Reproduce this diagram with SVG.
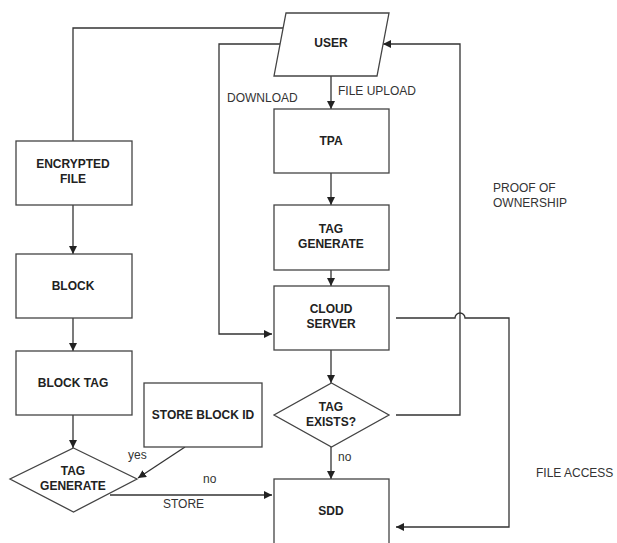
<svg xmlns="http://www.w3.org/2000/svg" width="617" height="543" viewBox="0 0 617 543">
<defs>
<marker id="ah" viewBox="0 0 10 10" refX="10" refY="5" markerWidth="8" markerHeight="8" markerUnits="userSpaceOnUse" orient="auto">
<path d="M0,0 L10,5 L0,10 z" fill="#222"/>
</marker>
<style>
.box{fill:#fff;stroke:#444;stroke-width:1.3}
.t{font-family:"Liberation Sans",Arial,sans-serif;font-size:12px;font-weight:bold;fill:#222;text-anchor:middle}
.l{font-family:"Liberation Sans",Arial,sans-serif;font-size:12px;fill:#333}
.c{fill:none;stroke:#333;stroke-width:1.3}
</style>
</defs>
<rect width="617" height="543" fill="#fff"/>
<g id="connectors">
<path class="c" d="M73,141 V28 H283"/>
<path class="c" d="M280,44 H219 V334 H272" marker-end="url(#ah)"/>
<path class="c" d="M331,76 V109" marker-end="url(#ah)"/>
<path class="c" d="M331,173 V205" marker-end="url(#ah)"/>
<path class="c" d="M331,270 V286" marker-end="url(#ah)"/>
<path class="c" d="M331,350 V383" marker-end="url(#ah)"/>
<path class="c" d="M331,447 V479" marker-end="url(#ah)"/>
<path class="c" d="M396,415 H460 V44 H383" marker-end="url(#ah)"/>
<path class="c" d="M396,318 H455 A5,5 0 0 1 465,318 H509 V527 H396" marker-end="url(#ah)"/>
<path class="c" d="M73,205 V254" marker-end="url(#ah)"/>
<path class="c" d="M73,318 V351" marker-end="url(#ah)"/>
<path class="c" d="M73,415 V448" marker-end="url(#ah)"/>
<path class="c" d="M185,447 L138,478" marker-end="url(#ah)"/>
<path class="c" d="M110,495 H272" marker-end="url(#ah)"/>
</g>
<g id="labels">
<text class="l" x="227" y="102">DOWNLOAD</text>
<text class="l" x="338" y="95">FILE UPLOAD</text>
<text class="l" x="493" y="192">PROOF OF</text>
<text class="l" x="493" y="207">OWNERSHIP</text>
<text class="l" x="536" y="477">FILE ACCESS</text>
<text class="l" x="338" y="461">no</text>
<text class="l" x="128" y="459">yes</text>
<text class="l" x="203" y="483">no</text>
<text class="l" x="163" y="508">STORE</text>
</g>
<g id="user">
<polygon class="box" points="286,13 389,13 377,76 274,76"/>
<text class="t" x="331" y="47">USER</text>
</g>
<g id="tpa">
<rect class="box" x="274" y="109" width="115" height="64"/>
<text class="t" x="331" y="145">TPA</text>
</g>
<g id="tag-generate-box">
<rect class="box" x="274" y="205" width="115" height="65"/>
<text class="t" x="331" y="233">TAG</text>
<text class="t" x="331" y="248">GENERATE</text>
</g>
<g id="cloud-server">
<rect class="box" x="274" y="286" width="115" height="64"/>
<text class="t" x="331" y="313">CLOUD</text>
<text class="t" x="331" y="328">SERVER</text>
</g>
<g id="tag-exists">
<polygon class="box" points="331.5,383 389,415 331.5,447 274,415"/>
<text class="t" x="331" y="411">TAG</text>
<text class="t" x="331" y="426">EXISTS?</text>
</g>
<g id="sdd">
<rect class="box" x="274" y="479" width="115" height="80"/>
<text class="t" x="331" y="515">SDD</text>
</g>
<g id="encrypted-file">
<rect class="box" x="16" y="141" width="116" height="64"/>
<text class="t" x="73" y="168">ENCRYPTED</text>
<text class="t" x="73" y="183">FILE</text>
</g>
<g id="block">
<rect class="box" x="16" y="254" width="116" height="64"/>
<text class="t" x="73" y="290">BLOCK</text>
</g>
<g id="block-tag">
<rect class="box" x="16" y="351" width="116" height="64"/>
<text class="t" x="73" y="387">BLOCK TAG</text>
</g>
<g id="store-block-id">
<rect class="box" x="144" y="383" width="118" height="64"/>
<text class="t" x="203" y="419">STORE BLOCK ID</text>
</g>
<g id="tag-generate-diamond">
<polygon class="box" points="73.5,448 137,479 73.5,512 10,479"/>
<text class="t" x="73" y="475">TAG</text>
<text class="t" x="73" y="490">GENERATE</text>
</g>
</svg>
